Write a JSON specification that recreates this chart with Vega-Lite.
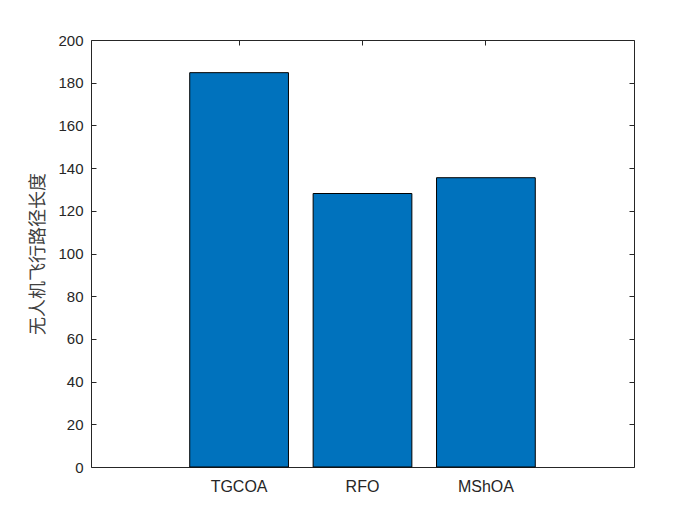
{
  "$schema": "https://vega.github.io/schema/vega-lite/v6.json",
  "width": 543,
  "height": 427,
  "autosize": {"type": "none"},
  "padding": {"left": 91, "top": 40, "right": 66, "bottom": 58},
  "background": "white",
  "data": {"values": [
    {"algorithm": "TGCOA", "length": 184.7},
    {"algorithm": "RFO", "length": 128.1},
    {"algorithm": "MShOA", "length": 135.5}
  ]},
  "config": {
    "view": {"stroke": "#262626", "strokeWidth": 1},
    "axis": {
      "grid": false,
      "domain": false,
      "tickColor": "#262626",
      "tickSize": -5,
      "tickWidth": 1,
      "labelColor": "#262626",
      "labelFont": "Liberation Sans",
      "labelFontSize": 15,
      "labelOverlap": false,
      "titleFont": "Noto Sans CJK SC",
      "titleFontWeight": "normal",
      "titleColor": "#404040"
    }
  },
  "layer": [
    {
      "mark": {"type": "bar", "color": "#0072BD", "stroke": "#000000", "strokeWidth": 1},
      "encoding": {
        "x": {
          "field": "algorithm", "type": "nominal", "sort": ["TGCOA", "RFO", "MShOA"],
          "scale": {"paddingInner": 0.2, "paddingOuter": 0.8},
          "axis": {"title": null, "labelAngle": 0, "labelPadding": 16, "labelFontSize": 16, "orient": "bottom"}
        },
        "y": {
          "field": "length", "type": "quantitative",
          "scale": {"domain": [0, 200], "nice": false},
          "axis": {"title": "无人机飞行路径长度", "titleFontSize": 18, "titlePadding": 10, "values": [0,20,40,60,80,100,120,140,160,180,200], "labelPadding": 13}
        }
      }
    },
    {
      "mark": {"type": "bar", "fillOpacity": 0, "strokeOpacity": 0},
      "encoding": {
        "x": {
          "field": "algorithm", "type": "nominal", "sort": ["TGCOA", "RFO", "MShOA"],
          "scale": {"paddingInner": 0.2, "paddingOuter": 0.8},
          "axis": {"title": null, "labels": false, "orient": "top"}
        },
        "y": {
          "field": "length", "type": "quantitative",
          "scale": {"domain": [0, 200], "nice": false},
          "axis": {"title": null, "labels": false, "orient": "right", "values": [0,20,40,60,80,100,120,140,160,180,200]}
        }
      }
    }
  ],
  "resolve": {"scale": {"x": "independent", "y": "independent"}, "axis": {"x": "independent", "y": "independent"}}
}
